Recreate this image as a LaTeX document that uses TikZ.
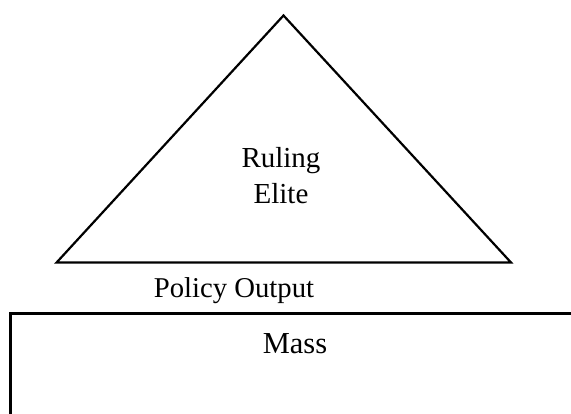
\documentclass[tikz,border=0pt]{standalone}
\usepackage{fontspec}
\setmainfont{Liberation Serif}
\begin{document}
\begin{tikzpicture}[x=1pt,y=-1pt,
  outline/.style={draw=black,line width=2.2pt,line join=miter},
  box/.style={draw=black,line width=2.8pt},
  label/.style={inner sep=0pt,text=black}]
  \useasboundingbox (0,0) rectangle (571,414);
  \clip (0,0) rectangle (571,414);
  % the elite pyramid
  \coordinate (apex) at (283.5,15.5);
  \coordinate (bl) at (56.6,262.5);
  \coordinate (br) at (511,262.5);
  \draw[outline] (apex) -- (bl) -- (br) -- cycle;
  \node[label,anchor=north,align=center,
        font=\fontsize{29}{36.6}\selectfont] (elite) at (281,147) {Ruling\\Elite};
  % policy flowing down
  \node[label,anchor=base,font=\fontsize{28.7}{34}\selectfont] (policy) at (234,297.3)
       {Policy Output};
  % the mass, running off the page
  \coordinate (mtl) at (10.3,313.5);
  \coordinate (mbr) at (580,430);
  \draw[box] (mbr |- mtl) -- (mtl) -- (mtl |- mbr);
  \node[label,anchor=base,font=\fontsize{30.5}{36}\selectfont] (mass) at (295,353.3) {Mass};
\end{tikzpicture}
\end{document}
